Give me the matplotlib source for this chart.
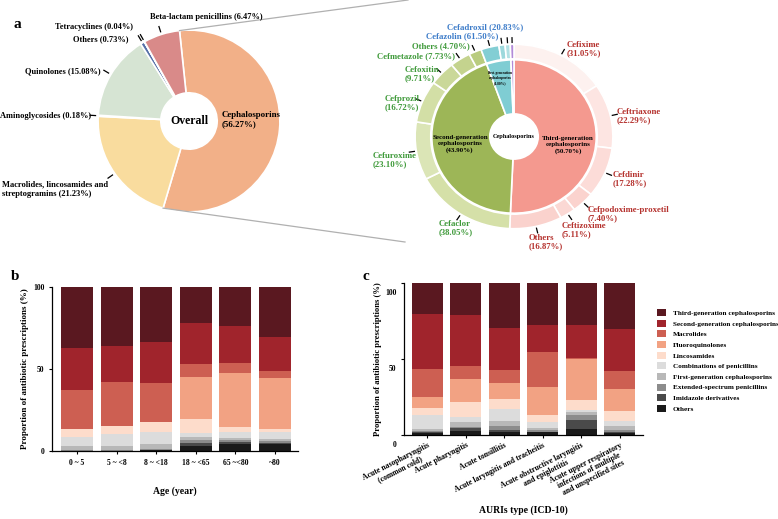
import matplotlib
matplotlib.use('Agg')
import matplotlib.pyplot as plt
import matplotlib.transforms as mtransforms
from matplotlib.lines import Line2D
from matplotlib.patches import Patch
import numpy as np

plt.rcParams['font.family'] = ['Liberation Serif', 'DejaVu Serif']
plt.rcParams['font.weight'] = 'bold'
plt.rcParams['axes.labelweight'] = 'bold'

W, H = 778, 519

# ---------------- data: panel a ----------------
overall_names = ['Cephalosporins', 'Macrolides, lincosamides and\nstreptogramins', 'Aminoglycosides',
                 'Quinolones', 'Others', 'Tetracyclines', 'Beta-lactam penicillins']
overall_pct = [56.27, 21.23, 0.18, 15.08, 0.73, 0.04, 6.47]
overall_colors = ['#f2b088', '#f9dc9e', '#d9d9c4', '#d6e4d3', '#5670a8', '#808080', '#d98a89']

gen_names = ['Third-generation\ncephalosporins', 'Second-generation\ncephalosporins',
             'First-generation\ncephalosporins', 'Other']
gen_pct = [50.70, 43.90, 4.80, 0.60]
gen_colors = ['#f4998f', '#9db657', '#7fcdd3', '#b28ad8']

third_names = ['Cefixime', 'Ceftriaxone', 'Cefdinir', 'Cefpodoxime-proxetil', 'Ceftizoxime', 'Others']
third_pct = [31.05, 22.29, 17.28, 7.40, 5.11, 16.87]
second_names = ['Cefaclor', 'Cefuroxime', 'Cefprozil', 'Cefoxitin', 'Cefmetazole', 'Others']
second_pct = [38.05, 23.10, 16.72, 9.71, 7.73, 4.70]
first_names = ['Cefazolin', 'Cefadroxil', '']
first_pct = [61.50, 20.83, 17.67]

third_colors = ['#fdf1ef', '#fde5e2', '#fcdcd8', '#fbd3ce', '#fbd8d4', '#fad2cd']
second_colors = ['#d5e0a8', '#dbe5b6', '#d3dfa6', '#cad899', '#c4d38e', '#b9cc7f']
first_colors = ['#83ced4', '#9dd8dc', '#b1e0e3']

# ---------------- data: panels b and c ----------------
classes = ['Third-generation cephalosporins', 'Second-generation cephalosporins', 'Macrolides',
           'Fluoroquinolones', 'Lincosamides', 'Combinations of penicillins',
           'First-generation cephalosporins', 'Extended-spectrum penicillins',
           'Imidazole derivatives', 'Others']
class_colors = ['#5a1820', '#a0242c', '#cd5f52', '#f2a283', '#fddccb',
                '#dcdcdc', '#b8b8b8', '#8c8c8c', '#4a4a4a', '#1a1a1a']

age_groups = ['0 ~ 5', '5 ~ <8', '8 ~ <18', '18 ~ <65', '65 ~<80', '~80']
age_third = [37.2, 35.9, 33.3, 21.8, 23.6, 30.4]
age_second = [25.6, 22.0, 25.0, 25.0, 23.0, 20.8]
age_macro = [23.6, 26.6, 23.9, 8.2, 5.6, 4.2]
age_fluoro = [0.2, 0.2, 0.3, 25.4, 33.0, 31.4]
age_linco = [4.9, 4.8, 6.0, 8.7, 3.1, 1.9]
age_comb = [5.5, 7.7, 7.5, 2.4, 3.6, 4.2]
age_first = [2.2, 2.1, 2.6, 2.0, 1.6, 1.2]
age_ext = [0.5, 0.4, 0.5, 1.6, 1.2, 0.8]
age_imid = [0.1, 0.1, 0.3, 2.1, 0.8, 0.6]
age_others = [0.2, 0.2, 0.6, 2.8, 4.5, 4.5]

auri_types = ['Acute nasopharyngitis\n(common cold)', 'Acute pharyngitis', 'Acute tonsillitis',
              'Acute laryngitis and tracheitis', 'Acute obstructive laryngitis\nand epiglottitis',
              'Acute upper respiratory\ninfections of multiple\nand unspecified sites']
auri_third = [20.2, 20.9, 29.7, 27.5, 27.5, 30.1]
auri_second = [36.5, 33.6, 27.4, 18.2, 22.0, 28.1]
auri_macro = [18.5, 8.8, 8.6, 22.7, 0.8, 11.7]
auri_fluoro = [7.2, 14.9, 10.3, 18.4, 26.6, 14.1]
auri_linco = [4.4, 9.7, 6.6, 4.4, 6.6, 6.5]
auri_comb = [9.2, 3.3, 7.9, 4.0, 1.1, 3.8]
auri_first = [1.4, 3.3, 3.8, 1.3, 2.2, 2.2]
auri_ext = [0.8, 1.1, 2.4, 1.3, 3.1, 1.3]
auri_imid = [0.7, 1.5, 1.5, 0.4, 6.1, 1.1]
auri_others = [1.1, 2.9, 1.8, 1.8, 4.0, 1.1]


def fx(x):
    return x / W


def fy(y):
    return 1 - y / H


def ptext(x, y, s, **kw):
    kw.setdefault('va', 'center')
    kw.setdefault('ha', 'left')
    fig.text(fx(x), fy(y), s, **kw)


def leader(ax, wedge, r0, r1):
    a = np.deg2rad((wedge.theta1 + wedge.theta2) / 2)
    ax.plot([r0 * np.cos(a), r1 * np.cos(a)], [r0 * np.sin(a), r1 * np.sin(a)],
            color='black', lw=0.9, clip_on=False)


fig = plt.figure(figsize=(W / 100, H / 100), dpi=100)

# ---------------- panel a: overall donut ----------------
ax_a = fig.add_axes([fx(89), fy(221), 200 / W, 200 / H])
wedges_a, _ = ax_a.pie(overall_pct, colors=overall_colors, startangle=96, counterclock=False,
                       radius=1.0, wedgeprops=dict(width=0.69, edgecolor='white', linewidth=1.2))
ax_a.set_xlim(-1.1, 1.1)
ax_a.set_ylim(-1.1, 1.1)
for w in wedges_a[1:]:
    leader(ax_a, w, 1.03, 1.09)
ax_a.text(0, 0, 'Overall', ha='center', va='center', fontsize=8.5)

lab_fs = 6.0
a_label_xy = [(222, 119.5), (2, 189.5), (0, 116), (25, 71), (73, 39), (55, 27), (150, 17)]
for name, p, (x, y) in zip(overall_names, overall_pct, a_label_xy):
    if name == 'Cephalosporins':
        ptext(x, y, f'{name}\n({p:.2f}%)', fontsize=6.4, linespacing=1.2)
    else:
        ptext(x, y, f'{name} ({p:.2f}%)', fontsize=lab_fs, linespacing=1.25)

# connector lines to the cephalosporin breakdown
ceph = wedges_a[0]
for ang, end in [(ceph.theta2, (408, 0)), (ceph.theta1, (405, 242))]:
    a = np.deg2rad(ang)
    p = ax_a.transData.transform((np.cos(a), np.sin(a)))
    p = fig.transFigure.inverted().transform(p)
    fig.add_artist(Line2D([p[0], fx(end[0])], [p[1], fy(end[1])],
                          transform=fig.transFigure, color='#b0b0b0', lw=0.9))

# ---------------- panel a: cephalosporin donut (slightly wider than tall) ----------------
ax_r = fig.add_axes([fx(403), fy(240), 222 / W, 207 / H])
wedges_in, _ = ax_r.pie(gen_pct, colors=gen_colors, startangle=90, counterclock=False,
                        radius=0.815, wedgeprops=dict(width=0.575, edgecolor='white', linewidth=1.2))
ring_vals = ([gen_pct[0] * p / 100 for p in third_pct] + [gen_pct[1] * p / 100 for p in second_pct]
             + [gen_pct[2] * p / 100 for p in first_pct] + [gen_pct[3]])
ring_cols = third_colors + second_colors + first_colors + [gen_colors[3]]
wedges_out, _ = ax_r.pie(ring_vals, colors=ring_cols, startangle=90, counterclock=False,
                         radius=0.98, wedgeprops=dict(width=0.155, edgecolor='white', linewidth=1.2))
ax_r.set_aspect('auto')
ax_r.set_xlim(-1.1, 1.1)
ax_r.set_ylim(-1.1, 1.1)
for w in wedges_out:
    leader(ax_r, w, 1.0, 1.05)

ax_r.text(0, 0, 'Cephalosporins', ha='center', va='center', fontsize=4.5)
gen_lab_xy = [(568, 145), (460, 144), (500, 78)]
gen_lab_fs = [5.0, 5.0, 2.6]
for name, p, (x, y), fs in zip(gen_names[:3], gen_pct[:3], gen_lab_xy, gen_lab_fs):
    ptext(x, y, f'{name}\n({p:.2f}%)', ha='center', fontsize=fs, linespacing=1.2)

red, green, blue = '#b5322e', '#3f9a3a', '#3d7cc9'
r_fs = 6.3
third_xy = [(567, 49), (617, 116), (613, 179), (588, 214), (562, 230), (529, 242)]
for name, p, (x, y) in zip(third_names, third_pct, third_xy):
    ptext(x, y, f'{name}\n({p:.2f}%)', color=red, fontsize=r_fs, linespacing=1.15)
second_xy = [(439, 228), (373, 160), (385, 103), (405, 74), (377, 56), (412, 46)]
for i, (name, p, (x, y)) in enumerate(zip(second_names, second_pct, second_xy)):
    sep = '\n' if i < 4 else ' '
    ptext(x, y, f'{name}{sep}({p:.2f}%)', color=green, fontsize=r_fs, linespacing=1.15)
first_xy = [(426, 36), (447, 27)]
for name, p, (x, y) in zip(first_names[:2], first_pct[:2], first_xy):
    ptext(x, y, f'{name} ({p:.2f}%)', color=blue, fontsize=r_fs)

# ---------------- stacked bars ----------------
age_stack = [age_third, age_second, age_macro, age_fluoro, age_linco,
             age_comb, age_first, age_ext, age_imid, age_others]
auri_stack = [auri_third, auri_second, auri_macro, auri_fluoro, auri_linco,
              auri_comb, auri_first, auri_ext, auri_imid, auri_others]


def stacked(ax, cats, stack, width):
    x = np.arange(len(cats))
    bottom = np.zeros(len(cats))
    for vals, col in zip(stack[::-1], class_colors[::-1]):
        ax.bar(x, vals, bottom=bottom, width=width, color=col, linewidth=0)
        bottom += np.array(vals)
    for s in ['top', 'right']:
        ax.spines[s].set_visible(False)
    ax.spines['left'].set_linewidth(0.9)
    ax.spines['bottom'].set_linewidth(0.9)
    ax.tick_params(axis='both', length=2.5, width=0.8, labelsize=5.5, pad=3)
    ax.set_xticks(x)
    ax.set_ylim(0, 100)
    ax.set_yticks([0, 50, 100])
    return x


ax_b = fig.add_axes([fx(52), fy(451), 246 / W, 164 / H])
stacked(ax_b, age_groups, age_stack, 0.81)
ax_b.set_xlim(-0.63, 5.58)
ax_b.set_xticklabels(age_groups)
ax_b.set_xlabel('Age (year)', fontsize=7, labelpad=14)
ax_b.set_ylabel('Proportion of antibiotic prescriptions (%)', fontsize=6.5, labelpad=3)

ax_c = fig.add_axes([fx(404), fy(435), 239 / W, 152 / H])
stacked(ax_c, auri_types, auri_stack, 0.80)
ax_c.set_xlim(-0.61, 5.61)
# the reference prints its y tick labels a little below their ticks
shift = mtransforms.ScaledTranslation(0, -0.09, fig.dpi_scale_trans)
for lab in ax_c.get_yticklabels():
    lab.set_transform(lab.get_transform() + shift)
ax_c.set_xticklabels(auri_types, rotation=27, ha='right', rotation_mode='anchor',
                     multialignment='center', fontsize=5.6, linespacing=1.05)
ax_c.tick_params(axis='x', pad=2)
ax_c.set_xlabel('AURIs type (ICD-10)', fontsize=7, labelpad=4)
ax_c.set_ylabel('Proportion of antibiotic prescriptions (%)', fontsize=6.2, labelpad=2)

handles = [Patch(facecolor=c, edgecolor='none') for c in class_colors]
ax_c.legend(handles, classes, loc='upper left', bbox_to_anchor=(fx(657), fy(309)),
            bbox_transform=fig.transFigure, frameon=False, fontsize=5.25, handlelength=1.3,
            handleheight=1.1, labelspacing=0.5, handletextpad=0.9, borderaxespad=0, borderpad=0)

# panel letters
ptext(17, 25, 'a', fontsize=11, ha='center')
ptext(15, 277, 'b', fontsize=11, ha='center')
ptext(366, 277, 'c', fontsize=11, ha='center')

fig.savefig('out.png', dpi=100)
